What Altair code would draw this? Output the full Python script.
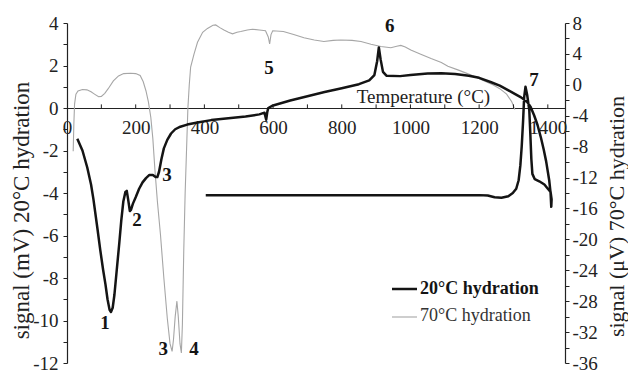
import altair as alt
import pandas as pd

FONT = "Liberation Serif"

# 20 °C hydration: temperature (°C) and DTA signal (mV), in recording order
# (heating run up to ~1410 °C, then the cooling return with exotherm 7)
t20 = [30, 45, 59, 70, 77, 88, 97, 105, 112, 118, 124, 128, 133, 138, 145, 152, 158, 164,
       170, 174, 178, 183, 186, 192, 200, 210, 220, 230, 240, 250, 258, 263, 268, 275, 282,
       292, 303, 315, 330, 350, 380, 420, 470, 520, 560, 575, 580, 583, 586, 600, 650, 700,
       750, 800, 850, 880, 895, 903, 908, 913, 920, 930, 970, 1000, 1050, 1090, 1130, 1170,
       1200, 1235, 1260, 1284, 1305, 1322, 1340, 1350, 1360, 1370, 1380, 1388, 1395, 1400,
       1404, 1408, 1410,
       1411, 1408, 1400, 1390, 1375, 1362, 1355, 1352, 1349, 1346, 1340, 1335, 1331, 1328,
       1324, 1320, 1315, 1308, 1298, 1285, 1265, 1245, 1225, 1200, 1000, 800, 600, 404]
s20 = [-1.45, -2.0, -2.8, -3.6, -4.3, -5.6, -6.7, -7.6, -8.3, -9.0, -9.5, -9.6, -9.4, -8.8,
       -7.6, -6.4, -5.3, -4.4, -3.95, -3.9, -4.3, -4.85, -4.8, -4.5, -4.2, -3.8, -3.5, -3.3,
       -3.15, -3.15, -3.25, -3.25, -3.0, -2.4, -1.9, -1.5, -1.2, -1.0, -0.88, -0.78, -0.68,
       -0.57, -0.48, -0.4, -0.3, -0.22, -0.55, -0.2, 0.0, 0.12, 0.35, 0.55, 0.75, 0.93, 1.12,
       1.3, 1.55, 2.2, 2.85, 2.3, 1.7, 1.52, 1.5, 1.55, 1.62, 1.63, 1.6, 1.52, 1.42, 1.21,
       1.05, 0.84, 0.65, 0.5, 0.28, 0.05, -0.34, -0.8, -1.4, -1.95, -2.5, -3.0, -3.4, -4.0,
       -4.65,
       -4.3, -3.95, -3.8, -3.6, -3.45, -3.35, -3.1, -2.4, -1.2, -0.1, 0.6, 1.0, 0.5, -0.6,
       -1.8, -2.7, -3.4, -3.8, -4.0, -4.15, -4.22, -4.2, -4.12, -4.1, -4.1, -4.1, -4.1, -4.1]

# 70 °C hydration: temperature (°C) and DTA signal (µV)
t70 = [18, 20, 22, 26, 32, 45, 58, 70, 80, 92, 100, 110, 120, 135, 150, 165, 185, 200, 213,
       222, 230, 237, 244, 250, 256, 263, 272, 282, 292, 300, 306, 310, 315, 320, 324, 329,
       333, 336, 340, 344, 348, 352, 356, 360, 370, 380, 395, 409, 425, 433, 445, 457, 470,
       482, 495, 506, 525, 540, 560, 578, 586, 590, 594, 599, 630, 660, 690, 720, 748, 775,
       797, 830, 856, 885, 914, 943, 960, 972, 985, 1001, 1030, 1060, 1090, 1109, 1140, 1166,
       1190, 1215, 1240, 1260, 1280, 1295, 1304]
s70 = [-8.6, -5.0, -2.5, -1.2, -0.8, -0.6, -0.65, -0.9, -1.2, -1.55, -1.5, -1.1, -0.5, 0.5,
       1.15, 1.45, 1.5, 1.45, 1.2, 0.4, -0.8, -2.2, -4.2, -7.0, -11.0, -15.0, -19.3, -25.0,
       -30.2, -33.5, -34.5, -33.0, -30.0, -28.0, -30.0, -33.5, -34.7, -31.0, -21.4, -14.0,
       -8.5, -3.0, 0.0, 2.3, 4.0, 5.5, 6.8, 7.3, 7.7, 7.75, 7.4, 7.1, 6.8, 6.6, 6.8, 6.9, 7.1,
       7.2, 7.1, 7.0, 6.2, 5.3, 6.5, 7.0, 6.9, 6.5, 6.1, 5.8, 5.6, 5.75, 5.8, 5.75, 5.6, 5.25,
       4.95, 4.8, 5.0, 5.1, 4.9, 4.5, 3.95, 3.4, 2.9, 2.4, 1.9, 1.45, 1.0, 0.5, 0.0, -0.5,
       -1.2, -2.2, -3.2]

# Peak numbers, placed in temperature / mV coordinates
peak_text = ["1", "2", "3", "3", "4", "5", "6", "7"]
peak_t = [111, 204, 291, 280, 370, 588, 940, 1360]
peak_s = [-10.1, -5.27, -3.15, -11.34, -11.34, 1.88, 3.86, 1.32]

x_label_values = list(range(0, 1401, 200))
x_minor_ticks = list(range(100, 1401, 100))
left_tick_values = list(range(-12, 5))
right_tick_values = list(range(-36, 9, 2))

df20 = pd.DataFrame({"t": t20, "s": s20, "i": range(len(t20))})
df70 = pd.DataFrame({"t": t70, "s": s70, "i": range(len(t70))})
dpk = pd.DataFrame({"label": peak_text, "t": peak_t, "s": peak_s})
dtk = pd.DataFrame({"t": x_minor_ticks})
one = pd.DataFrame({"k": [0]})

x_scale = alt.Scale(domain=[0, 1450], nice=False, zero=False)
yl_scale = alt.Scale(domain=[-12, 4], nice=False, zero=False)
yr_scale = alt.Scale(domain=[-36, 8], nice=False, zero=False)

hyphen_labels = "(datum.value < 0 ? '-' + abs(datum.value) : '' + datum.value)"

x_axis = alt.Axis(
    values=x_label_values, orient="bottom", offset=-255, ticks=False, tickSize=0,
    labelExpr="'' + datum.value",
    labelPadding=10, labelFont=FONT, labelFontSize=19, labelColor="#222",
    labelOverlap=False, labelFlush=False, grid=False,
    domainColor="#222", domainWidth=1.2,
    title="Temperature (°C)", titleFont=FONT, titleFontSize=19, titleFontWeight="normal",
    titleColor="#222", titleX=356, titleY=-6, titleAlign="center", titleBaseline="alphabetic",
)

yl_axis = alt.Axis(
    values=left_tick_values, orient="left",
    labelExpr="datum.value % 2 == 0 ? " + hyphen_labels + " : ''",
    tickSize=4, tickColor="#222", labelPadding=5, labelFont=FONT, labelFontSize=19,
    labelColor="#222", labelOverlap=False, labelFlush=False, grid=False,
    domainColor="#222", domainWidth=1.2,
    title="signal (mV) 20°C hydration", titleFont=FONT, titleFontSize=23,
    titleFontWeight="normal", titleColor="#222", titleAngle=270, titleAlign="center",
    titleBaseline="middle", titleX=-46, titleY=187,
)

yr_axis = alt.Axis(
    values=right_tick_values, orient="right",
    labelExpr="datum.value % 4 == 0 ? " + hyphen_labels + " : ''",
    tickSize=4, tickColor="#222", labelPadding=3, labelFont=FONT, labelFontSize=19,
    labelColor="#222", labelOverlap=False, labelFlush=False, grid=False,
    domainColor="#222", domainWidth=1.2,
    title="signal (μV) 70°C hydration", titleFont=FONT, titleFontSize=22,
    titleFontWeight="normal", titleColor="#222", titleAngle=270, titleAlign="center",
    titleBaseline="middle", titleX=51, titleY=193,
)

line20 = alt.Chart(df20).mark_line(color="#141414", strokeWidth=2.5, strokeJoin="round").encode(
    x=alt.X("t:Q", scale=x_scale, axis=x_axis),
    y=alt.Y("s:Q", scale=yl_scale, axis=yl_axis),
    order="i:Q",
)

# short upward ticks every 100 °C on the temperature axis
minor_ticks = alt.Chart(dtk).mark_rule(color="#222", strokeWidth=1).encode(
    x=alt.X("t:Q", scale=x_scale, axis=x_axis),
    y=alt.Y(datum=0, scale=yl_scale, axis=yl_axis),
    y2=alt.Y2(datum=0.17),
)

peaks = alt.Chart(dpk).mark_text(
    font=FONT, fontSize=19, fontWeight="bold", color="#141414", baseline="middle", align="center"
).encode(
    x=alt.X("t:Q", scale=x_scale, axis=x_axis),
    y=alt.Y("s:Q", scale=yl_scale, axis=yl_axis),
    text="label:N",
)

# legend drawn by hand: bold entry for 20 °C, regular for 70 °C
leg_line20 = alt.Chart(one).mark_rule(color="#141414", strokeWidth=2.5).encode(
    x=alt.value(325), x2=alt.value(350), y=alt.value(266))
leg_line70 = alt.Chart(one).mark_rule(color="#a6a6a6", strokeWidth=1.1).encode(
    x=alt.value(325), x2=alt.value(350), y=alt.value(294))
leg_text20 = alt.Chart(one).mark_text(
    font=FONT, fontSize=18, fontWeight="bold", color="#141414", align="left", baseline="middle"
).encode(x=alt.value(353), y=alt.value(266), text=alt.value("20°C hydration"))
leg_text70 = alt.Chart(one).mark_text(
    font=FONT, fontSize=18, color="#333", align="left", baseline="middle"
).encode(x=alt.value(353), y=alt.value(293), text=alt.value("70°C hydration"))

line70 = alt.Chart(df70).mark_line(color="#a6a6a6", strokeWidth=1.1).encode(
    x=alt.X("t:Q", scale=x_scale, axis=x_axis),
    y=alt.Y("s:Q", scale=yr_scale, axis=yr_axis),
    order="i:Q",
)

mv_group = alt.layer(line20, minor_ticks, peaks, leg_line20, leg_line70, leg_text20, leg_text70)

chart = (
    alt.layer(line70, mv_group)
    .resolve_scale(y="independent")
    .properties(
        width=498,
        height=340,
        padding={"left": 67, "top": 23, "right": 63, "bottom": 9},
        autosize=alt.AutoSizeParams(type="none"),
        background="white",
    )
    .configure_view(stroke=None)
    .configure_axis(labelFont=FONT, titleFont=FONT)
    .configure_text(font=FONT)
)

chart.save("out.html", embed_options={"renderer": "svg", "actions": False})
